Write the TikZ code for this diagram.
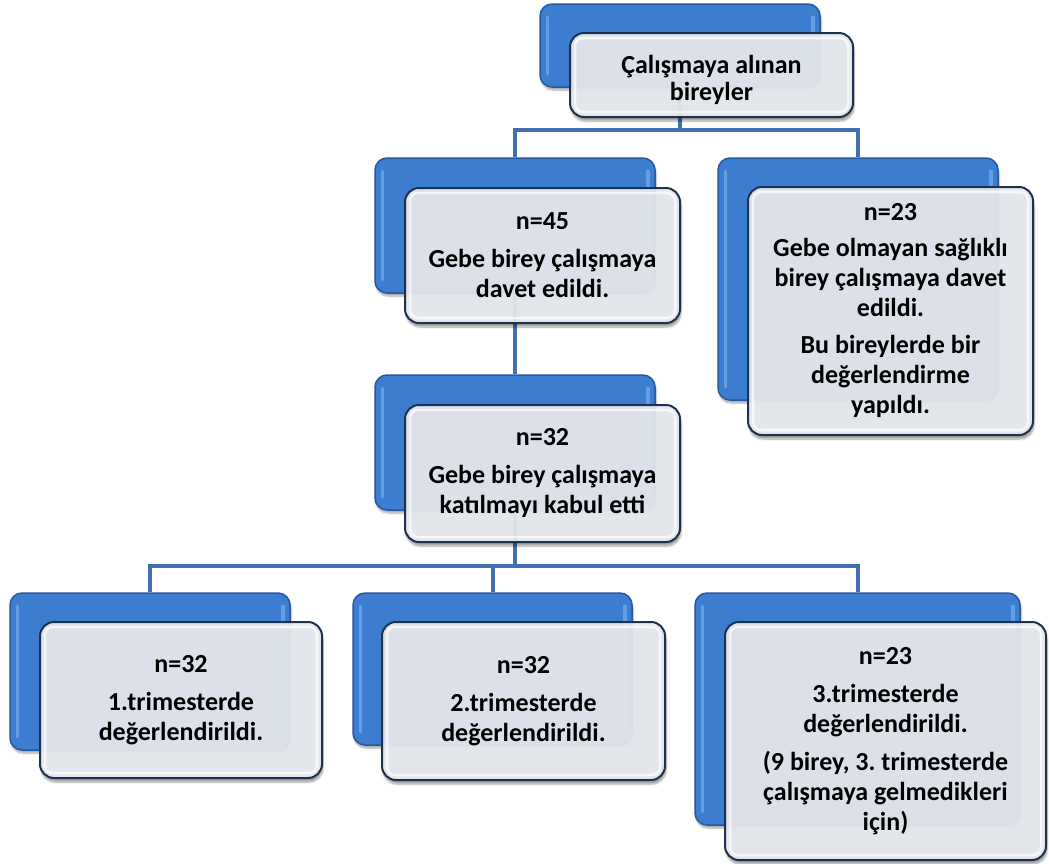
\documentclass[tikz,border=0pt]{standalone}
\usepackage{fontspec}
\setmainfont{Carlito}
\usetikzlibrary{shadows.blur}
\frenchspacing
\definecolor{blueF}{RGB}{60,125,207}
\definecolor{blueD}{RGB}{40,88,158}
\definecolor{blueL}{RGB}{125,180,240}
\definecolor{whiteF}{RGB}{233,236,241}
\definecolor{whiteD}{RGB}{30,50,80}
\definecolor{connC}{RGB}{66,112,174}
\tikzset{
  bluebox/.style={draw=blueD, line width=1.5pt, fill=blueF, rounded corners=12pt, inner sep=0pt,
    blur shadow={shadow xshift=1pt, shadow yshift=-3pt, shadow blur steps=6, shadow opacity=35}},
  whitebox/.style={draw=whiteD, line width=2pt, fill=whiteF, fill opacity=0.93, text opacity=1,
    rounded corners=14pt, inner sep=4pt, align=center,
    font=\bfseries\fontsize{26}{30}\selectfont,
    blur shadow={shadow xshift=1pt, shadow yshift=-4pt, shadow blur steps=6, shadow opacity=40}},
  hl/.style={draw=blueL, line width=3.5pt, opacity=0.6, line cap=round},
  rim/.style={draw=white, line width=2.5pt, opacity=0.7, rounded corners=8pt},
  conn/.style={draw=connC, line width=4pt}
}
\newcommand{\bbox}[5]{%
  \node[bluebox, minimum width={(#4-#2)*1pt}, minimum height={(#5-#3)*1pt}] (#1) at ({(#2+#4)/2},{(#3+#5)/2}) {};
  \draw[hl] ([xshift=8pt,yshift=-14pt]#1.north west) -- ([xshift=8pt,yshift=14pt]#1.south west);
  \draw[hl] ([xshift=-8pt,yshift=-14pt]#1.north east) -- ([xshift=-8pt,yshift=14pt]#1.south east);
}
\newcommand{\wbox}[6]{%
  \node[whitebox, minimum width={(#4-#2)*1pt}, minimum height={(#5-#3)*1pt}] (#1) at ({(#2+#4)/2},{(#3+#5)/2}) {#6};
  \draw[rim] ([xshift=6pt,yshift=-6pt]#1.north west) rectangle ([xshift=-6pt,yshift=6pt]#1.south east);
}
\begin{document}
\begin{tikzpicture}[x=1pt,y=-1pt]
\useasboundingbox (0,0) rectangle (1049,863);
% blue group boxes
\bbox{bTop}{540}{4}{820}{87}
\bbox{b45}{375}{158}{655}{293}
\bbox{b23a}{718}{158}{998}{400}
\bbox{b32}{375}{375}{655}{510}
\bbox{bT1}{10}{593}{290}{750}
\bbox{bT2}{353}{593}{632}{745}
\bbox{bT3}{695}{593}{1020}{825}
% junction coordinates
\coordinate (j1) at (680,130);
\coordinate (j2) at (515,566);
% connectors
\draw[conn] (bTop.south) -- (bTop.south |- j1) -| (b45.north);
\draw[conn] (bTop.south |- j1) -| (b23a.north);
\draw[conn] (b45.south) -- (b32.north);
\draw[conn] (b32.south) -- (b32.south |- j2) -| (bT1.north);
\draw[conn] (b32.south |- j2) -| (bT2.north);
\draw[conn] (b32.south |- j2) -| (bT3.north);
% white boxes
\wbox{wTop}{570}{33}{853}{117}{\rule{0pt}{29pt}Çalışmaya alınan\\[-3pt]bireyler}
\wbox{w45}{405}{188}{680}{323}{n=45\\[8pt]Gebe birey çalışmaya\\davet edildi.}
\wbox{w23a}{748}{187}{1033}{435}{n=23\\[6pt]Gebe olmayan sağlıklı\\birey çalışmaya davet\\edildi.\\[7pt]Bu bireylerde bir\\değerlendirme\\yapıldı.}
\wbox{w32}{405}{405}{680}{542}{n=32\\[8pt]Gebe birey çalışmaya\\katılmayı kabul etti}
\wbox{wT1}{40}{622}{322}{778}{n=32\\[8pt]1.trimesterde\\değerlendirildi.}
\wbox{wT2}{382}{622}{665}{780}{n=32\\[8pt]2.trimesterde\\değerlendirildi.}
\wbox{wT3}{725}{622}{1046}{860}{n=23\\[8pt]3.trimesterde\\değerlendirildi.\\[8pt](9 birey, 3. trimesterde\\çalışmaya gelmedikleri\\için)}
\end{tikzpicture}
\end{document}
